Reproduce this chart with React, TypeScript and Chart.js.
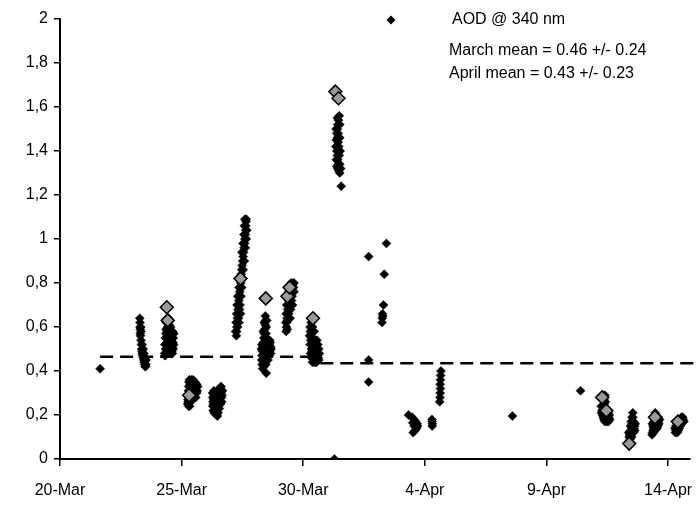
import React, { useEffect, useRef } from "react";
import { Chart, registerables } from "chart.js";

Chart.register(...registerables);

// Day offsets are counted from 20-Mar (day 0)
const xTickDays = [0, 5, 10, 15, 20, 25];
const xTickLabels = ["20-Mar", "25-Mar", "30-Mar", "4-Apr", "9-Apr", "14-Apr"];
const yTickLabels = ["0", "0,2", "0,4", "0,6", "0,8", "1", "1,2", "1,4", "1,6", "1,8", "2"];

const seriesLabel = "AOD @ 340 nm";
const statLines = ["March mean = 0.46 +/- 0.24", "April mean = 0.43 +/- 0.23"];

// [day, AOD] black markers
const aodPoints: [number, number][] = [
  [1.65, 0.41],
  // 23-Mar
  [3.28, 0.64], [3.29, 0.62], [3.29, 0.6], [3.3, 0.59], [3.3, 0.57], [3.31, 0.56], [3.33, 0.54],
  [3.35, 0.52], [3.36, 0.5], [3.37, 0.49], [3.38, 0.48], [3.4, 0.47], [3.42, 0.46], [3.44, 0.45],
  [3.46, 0.44], [3.48, 0.43], [3.5, 0.42], [3.52, 0.42], [3.53, 0.43],
  [3.32, 0.6], [3.33, 0.58], [3.38, 0.52], [3.42, 0.5], [3.45, 0.48], [3.5, 0.46], [3.54, 0.45],
  // 24-Mar
  [4.3, 0.48], [4.32, 0.47], [4.34, 0.5], [4.36, 0.52], [4.38, 0.55], [4.4, 0.58], [4.42, 0.6],
  [4.44, 0.62], [4.46, 0.64], [4.48, 0.61], [4.5, 0.58], [4.52, 0.56], [4.54, 0.54], [4.56, 0.52],
  [4.58, 0.5], [4.6, 0.49], [4.62, 0.51], [4.64, 0.53], [4.66, 0.55], [4.68, 0.57], [4.36, 0.59],
  [4.4, 0.53], [4.5, 0.51], [4.55, 0.6], [4.45, 0.49], [4.62, 0.48],
  [4.33, 0.55], [4.35, 0.57], [4.37, 0.62], [4.41, 0.64], [4.43, 0.56], [4.47, 0.54], [4.49, 0.52],
  [4.53, 0.5], [4.57, 0.58], [4.59, 0.56], [4.63, 0.58], [4.65, 0.5], [4.67, 0.52], [4.31, 0.52],
  [4.33, 0.47],
  // 25-Mar
  [5.25, 0.25], [5.26, 0.27], [5.27, 0.29], [5.28, 0.31], [5.29, 0.33], [5.3, 0.35], [5.32, 0.36],
  [5.34, 0.35], [5.36, 0.34], [5.38, 0.33], [5.4, 0.32], [5.42, 0.34], [5.44, 0.33], [5.46, 0.32],
  [5.48, 0.31], [5.5, 0.33], [5.52, 0.32], [5.54, 0.31], [5.56, 0.3], [5.58, 0.32], [5.6, 0.31],
  [5.62, 0.3], [5.64, 0.31], [5.66, 0.33], [5.27, 0.26], [5.33, 0.3],
  [5.35, 0.28], [5.38, 0.26], [5.3, 0.27], [5.41, 0.29], [5.45, 0.28], [5.52, 0.28], [5.58, 0.28],
  [5.62, 0.34], [5.55, 0.35], [5.47, 0.36], [5.4, 0.36], [5.29, 0.24], [5.33, 0.24],
  // 26-Mar
  [6.27, 0.3], [6.28, 0.28], [6.29, 0.26], [6.3, 0.25], [6.32, 0.27], [6.34, 0.29], [6.36, 0.27],
  [6.38, 0.25], [6.4, 0.23], [6.42, 0.21], [6.44, 0.2], [6.46, 0.22], [6.48, 0.24], [6.5, 0.26],
  [6.52, 0.28], [6.54, 0.27], [6.56, 0.29], [6.58, 0.31], [6.6, 0.32], [6.62, 0.3], [6.64, 0.28],
  [6.66, 0.29], [6.68, 0.31], [6.45, 0.25], [6.35, 0.24],
  [6.3, 0.22], [6.33, 0.21], [6.47, 0.195], [6.5, 0.21], [6.55, 0.23], [6.6, 0.25], [6.65, 0.26],
  [6.4, 0.28], [6.45, 0.29], [6.5, 0.3], [6.55, 0.32], [6.62, 0.33], [6.28, 0.24], [6.33, 0.31],
  // 27-Mar
  [7.25, 0.56], [7.26, 0.58], [7.27, 0.6], [7.28, 0.62], [7.29, 0.64], [7.3, 0.66], [7.32, 0.68],
  [7.33, 0.7], [7.35, 0.72], [7.37, 0.74], [7.39, 0.76], [7.41, 0.78], [7.43, 0.8], [7.45, 0.84],
  [7.47, 0.86], [7.49, 0.88], [7.51, 0.9], [7.53, 0.92], [7.55, 0.94], [7.57, 0.96], [7.59, 0.98],
  [7.6, 1.0], [7.62, 1.02], [7.63, 1.04], [7.64, 1.06], [7.65, 1.08], [7.66, 1.09], [7.3, 0.6],
  [7.34, 0.64], [7.38, 0.68], [7.42, 0.66], [7.36, 0.62],
  [7.22, 0.58], [7.24, 0.62], [7.26, 0.66], [7.28, 0.7], [7.31, 0.74], [7.36, 0.78], [7.4, 0.7],
  [7.44, 0.74], [7.47, 0.78], [7.5, 0.82], [7.48, 0.94], [7.52, 0.98], [7.56, 1.02], [7.58, 1.06],
  [7.6, 1.09], [7.68, 1.04], [7.66, 1.0], [7.62, 0.96], [7.58, 0.9], [7.53, 0.86],
  // 28-Mar
  [8.44, 0.65], [8.45, 0.63], [8.44, 0.61], [8.42, 0.59], [8.4, 0.57], [8.38, 0.55], [8.36, 0.53],
  [8.34, 0.51], [8.32, 0.49], [8.3, 0.47], [8.29, 0.45], [8.31, 0.43], [8.33, 0.41], [8.5, 0.55],
  [8.52, 0.53], [8.54, 0.51], [8.56, 0.49], [8.58, 0.5], [8.6, 0.52], [8.62, 0.54], [8.64, 0.53],
  [8.66, 0.51], [8.47, 0.57], [8.49, 0.45], [8.46, 0.43], [8.4, 0.48], [8.48, 0.39],
  [8.28, 0.5], [8.3, 0.52], [8.35, 0.45], [8.38, 0.42], [8.42, 0.44], [8.44, 0.47], [8.52, 0.47],
  [8.55, 0.45], [8.6, 0.47], [8.62, 0.49], [8.66, 0.48], [8.68, 0.5], [8.36, 0.58], [8.4, 0.62],
  [8.48, 0.6], [8.5, 0.63],
  // 29-Mar
  [9.3, 0.58], [9.31, 0.6], [9.32, 0.62], [9.33, 0.64], [9.34, 0.66], [9.36, 0.68], [9.38, 0.7],
  [9.4, 0.72], [9.42, 0.74], [9.44, 0.7], [9.46, 0.72], [9.48, 0.74], [9.5, 0.76], [9.52, 0.77],
  [9.54, 0.78], [9.56, 0.79], [9.58, 0.8], [9.6, 0.78], [9.62, 0.76], [9.36, 0.63], [9.4, 0.66],
  [9.44, 0.68], [9.34, 0.59],
  [9.28, 0.62], [9.3, 0.66], [9.32, 0.7], [9.36, 0.74], [9.4, 0.76], [9.46, 0.78], [9.5, 0.8],
  [9.54, 0.74], [9.58, 0.76], [9.62, 0.8], [9.48, 0.68], [9.52, 0.72], [9.56, 0.7], [9.46, 0.64],
  // 30-Mar
  [10.28, 0.6], [10.29, 0.58], [10.3, 0.56], [10.31, 0.54], [10.32, 0.52], [10.34, 0.5], [10.36, 0.49],
  [10.38, 0.48], [10.4, 0.47], [10.42, 0.46], [10.44, 0.45], [10.46, 0.44], [10.48, 0.45], [10.5, 0.47],
  [10.52, 0.49], [10.54, 0.51], [10.56, 0.5], [10.58, 0.48], [10.6, 0.47], [10.62, 0.46], [10.64, 0.45],
  [10.36, 0.55], [10.4, 0.53], [10.33, 0.62], [10.5, 0.44],
  [10.26, 0.56], [10.28, 0.52], [10.3, 0.48], [10.34, 0.46], [10.38, 0.44], [10.44, 0.5], [10.48, 0.52],
  [10.52, 0.54], [10.56, 0.54], [10.6, 0.52], [10.64, 0.5], [10.66, 0.48], [10.55, 0.44], [10.45, 0.58],
  [10.38, 0.6],
  // 31-Mar
  [11.28, 0.0],
  [11.48, 1.56], [11.45, 1.54], [11.42, 1.52], [11.4, 1.5], [11.38, 1.48], [11.4, 1.46], [11.44, 1.44],
  [11.46, 1.42], [11.44, 1.4], [11.4, 1.38], [11.42, 1.36], [11.44, 1.34], [11.42, 1.32], [11.46, 1.31],
  [11.5, 1.3], [11.56, 1.24], [11.36, 1.45], [11.48, 1.38], [11.38, 1.33],
  [11.35, 1.5], [11.34, 1.42], [11.36, 1.36], [11.5, 1.46], [11.52, 1.4], [11.5, 1.34], [11.54, 1.32],
  [11.38, 1.4], [11.44, 1.48], [11.4, 1.55], [11.5, 1.52],
  // 1-Apr / 2-Apr
  [12.69, 0.92], [12.69, 0.45], [12.69, 0.35],
  [13.42, 0.98], [13.33, 0.84], [13.3, 0.7], [13.26, 0.66], [13.25, 0.64], [13.24, 0.62], [13.27, 0.65],
  // 3-Apr
  [14.33, 0.2], [14.48, 0.19], [14.55, 0.18], [14.62, 0.17], [14.68, 0.16], [14.7, 0.15], [14.66, 0.14],
  [14.6, 0.13], [14.52, 0.12], [14.56, 0.15], [14.62, 0.155], [14.5, 0.165],
  [15.29, 0.18], [15.3, 0.17], [15.31, 0.16], [15.3, 0.15],
  // 4-Apr
  [15.66, 0.4], [15.65, 0.38], [15.64, 0.36], [15.63, 0.34], [15.64, 0.32], [15.63, 0.3], [15.62, 0.28],
  [15.61, 0.26],
  // 7-Apr, 10-Apr
  [18.6, 0.195],
  [21.4, 0.31],
  // 11-Apr
  [22.3, 0.29], [22.33, 0.28], [22.36, 0.27], [22.4, 0.29], [22.42, 0.26], [22.25, 0.24], [22.28, 0.22],
  [22.3, 0.2], [22.33, 0.19], [22.36, 0.18], [22.4, 0.17], [22.44, 0.18], [22.48, 0.17], [22.52, 0.18],
  [22.56, 0.19], [22.58, 0.2], [22.54, 0.21], [22.5, 0.22], [22.26, 0.21],
  [22.35, 0.23], [22.38, 0.21], [22.42, 0.2], [22.45, 0.21], [22.47, 0.19], [22.55, 0.17], [22.6, 0.18],
  [22.38, 0.25],
  // 12-Apr
  [23.55, 0.21], [23.55, 0.19], [23.54, 0.17], [23.52, 0.16], [23.56, 0.15], [23.6, 0.14], [23.63, 0.13],
  [23.62, 0.15], [23.5, 0.14], [23.47, 0.13], [23.45, 0.12], [23.42, 0.11], [23.4, 0.1], [23.44, 0.09],
  [23.48, 0.11], [23.52, 0.12], [23.58, 0.12], [23.65, 0.16], [23.38, 0.12],
  [23.45, 0.15], [23.48, 0.17], [23.52, 0.19], [23.58, 0.17], [23.6, 0.16], [23.5, 0.1], [23.45, 0.11],
  // 13-Apr
  [24.47, 0.21], [24.5, 0.2], [24.54, 0.19], [24.58, 0.18], [24.6, 0.17], [24.62, 0.16], [24.58, 0.15],
  [24.55, 0.14], [24.52, 0.15], [24.48, 0.16], [24.44, 0.15], [24.4, 0.14], [24.38, 0.13], [24.36, 0.12],
  [24.34, 0.11], [24.4, 0.12], [24.45, 0.13], [24.35, 0.16], [24.42, 0.17],
  [24.5, 0.17], [24.55, 0.16], [24.6, 0.19], [24.65, 0.18], [24.38, 0.15], [24.44, 0.18],
  // 14-Apr
  [25.3, 0.12], [25.32, 0.13], [25.34, 0.14], [25.36, 0.15], [25.38, 0.16], [25.45, 0.17], [25.5, 0.18],
  [25.55, 0.19], [25.6, 0.19], [25.62, 0.18], [25.58, 0.17], [25.54, 0.16], [25.5, 0.15], [25.46, 0.14],
  [25.42, 0.13], [25.38, 0.12], [25.65, 0.17], [25.28, 0.14],
  [25.4, 0.15], [25.44, 0.16], [25.48, 0.17], [25.55, 0.17], [25.6, 0.17], [25.35, 0.13], [25.32, 0.15],
];

// [day, AOD] grey highlighted markers
const highlightPoints: [number, number][] = [
  [4.39, 0.69], [4.43, 0.63], [5.31, 0.29], [7.42, 0.82], [8.46, 0.73], [9.35, 0.74], [9.44, 0.78],
  [10.4, 0.64], [11.32, 1.67], [11.45, 1.64], [22.29, 0.28], [22.46, 0.22], [23.4, 0.07],
  [24.46, 0.19], [25.4, 0.17],
];

// mean lines: [startDay, endDay, value]
const marchMean: [number, number, number] = [1.65, 10.7, 0.465];
const aprilMean: [number, number, number] = [10.7, 26.3, 0.435];

const FONT = "'Liberation Sans', Arial, Helvetica, sans-serif";

const legendPlugin = {
  id: "customLegend",
  afterDraw(chart: any) {
    const ctx = chart.ctx as CanvasRenderingContext2D;
    ctx.save();
    ctx.fillStyle = "#000";
    const mx = 391, my = 20, r = 4.5;
    ctx.beginPath();
    ctx.moveTo(mx - r, my);
    ctx.lineTo(mx, my - r);
    ctx.lineTo(mx + r, my);
    ctx.lineTo(mx, my + r);
    ctx.closePath();
    ctx.fill();
    ctx.font = `16px ${FONT}`;
    ctx.textBaseline = "middle";
    ctx.textAlign = "left";
    ctx.fillText(seriesLabel, 452, 20);
    ctx.fillText(statLines[0], 449, 51);
    ctx.fillText(statLines[1], 449, 74);
    ctx.restore();
  },
};

export default function App() {
  const ref = useRef<HTMLCanvasElement | null>(null);
  useEffect(() => {
    if (!ref.current) return;
    Chart.defaults.font.family = FONT;
    Chart.defaults.font.size = 16;
    Chart.defaults.color = "#000";
    const chart = new Chart(ref.current, {
      type: "scatter",
      data: {
        datasets: [
          {
            label: "highlight",
            data: highlightPoints.map(([x, y]) => ({ x, y })),
            pointStyle: "rectRot",
            pointRadius: 6.5,
            backgroundColor: "#9a9a9a",
            borderColor: "#000",
            borderWidth: 1.5,
            order: 0,
          },
          {
            label: seriesLabel,
            data: aodPoints.map(([x, y]) => ({ x, y })),
            pointStyle: "rectRot",
            pointRadius: 4.5,
            backgroundColor: "#000",
            borderColor: "#000",
            borderWidth: 0.5,
            order: 1,
          },
          {
            type: "line",
            label: "March mean",
            data: [
              { x: marchMean[0], y: marchMean[2] },
              { x: marchMean[1], y: marchMean[2] },
            ],
            borderColor: "#000",
            borderWidth: 2.5,
            borderDash: [13, 7],
            pointRadius: 0,
            fill: false,
            order: 2,
          },
          {
            type: "line",
            label: "April mean",
            data: [
              { x: aprilMean[0], y: aprilMean[2] },
              { x: aprilMean[1], y: aprilMean[2] },
            ],
            borderColor: "#000",
            borderWidth: 2.5,
            borderDash: [13, 7],
            pointRadius: 0,
            fill: false,
            clip: 20,
            order: 2,
          },
        ],
      } as any,
      options: {
        animation: false,
        responsive: true,
        maintainAspectRatio: false,
        layout: { padding: { top: 19, right: 10, left: 0, bottom: 0 } },
        plugins: {
          legend: { display: false },
          tooltip: { enabled: false },
        },
        scales: {
          x: {
            type: "linear",
            min: 0,
            max: 25.9,
            afterFit: (s: any) => {
              s.height = 52;
              s.paddingLeft = 0;
              s.paddingRight = 0;
            },
            grid: {
              display: true,
              drawOnChartArea: false,
              drawTicks: true,
              tickLength: 7,
              color: "#000",
              lineWidth: 1.5,
            },
            border: { display: true, color: "#000", width: 2 },
            ticks: {
              stepSize: 5,
              includeBounds: false,
              autoSkip: false,
              maxRotation: 0,
              padding: 15,
              color: "#000",
              font: { size: 16, family: FONT },
              callback: (v: any) => {
                const i = xTickDays.indexOf(Math.round(Number(v)));
                return i >= 0 ? xTickLabels[i] : "";
              },
            },
          },
          y: {
            type: "linear",
            min: 0,
            max: 2,
            afterFit: (s: any) => {
              s.width = 60;
            },
            grid: {
              display: true,
              drawOnChartArea: false,
              drawTicks: true,
              tickLength: 6,
              color: "#000",
              lineWidth: 1.5,
            },
            border: { display: true, color: "#000", width: 2 },
            ticks: {
              stepSize: 0.2,
              autoSkip: false,
              padding: 6,
              color: "#000",
              font: { size: 16, family: FONT },
              callback: (v: any) => {
                const i = Math.round(Number(v) / 0.2);
                return yTickLabels[i] ?? "";
              },
            },
          },
        },
      },
      plugins: [legendPlugin],
    } as any);
    return () => chart.destroy();
  }, []);
  return (
    <div style={{ position: "fixed", left: 0, top: 0, width: 700, height: 511, background: "#fff" }}>
      <canvas ref={ref} />
    </div>
  );
}
